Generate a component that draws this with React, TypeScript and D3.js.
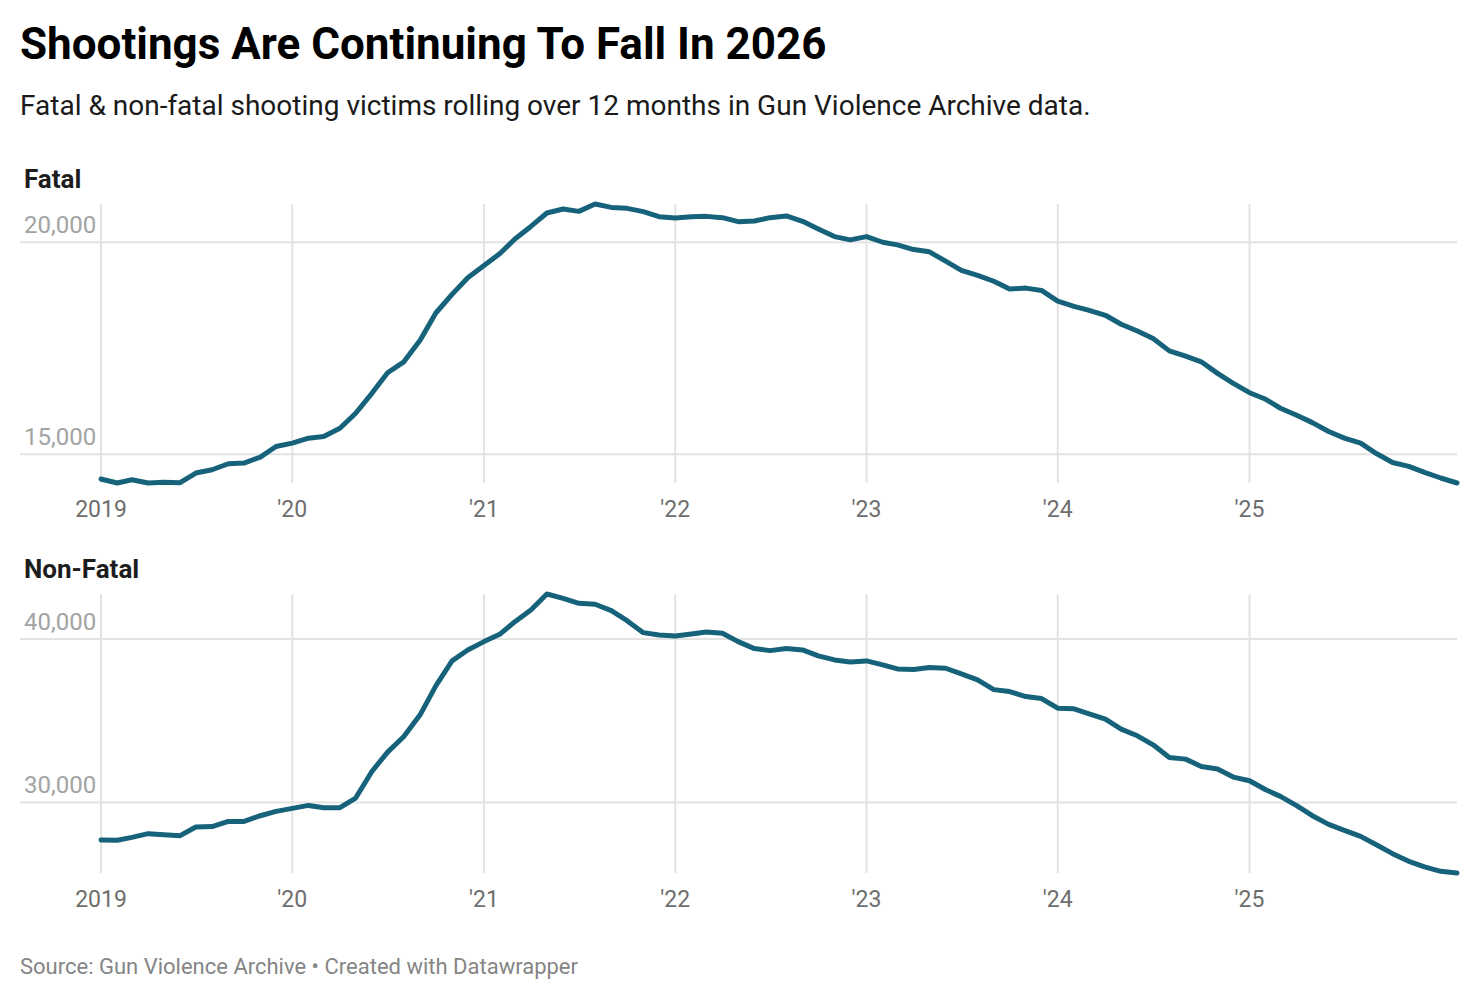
import React, { useEffect, useRef } from "react";
import * as d3 from "d3";

// monthly points, Jan 2019 .. Feb 2026
const startMonth = new Date(2019, 0, 1);
const endMonth = new Date(2026, 1, 1);
const months = d3.timeMonth.range(startMonth, d3.timeMonth.offset(endMonth, 1));

const fatal = [
  14413, 14319, 14397, 14319, 14334, 14326, 14554, 14632, 14773, 14790, 14930, 15180,
  15260, 15377, 15415, 15612, 15965, 16435, 16920, 17179, 17689, 18331, 18770, 19163,
  19452, 19741, 20078, 20380, 20691, 20785, 20729, 20903, 20823, 20800, 20722, 20604,
  20573, 20604, 20611, 20581, 20487, 20502, 20581, 20620, 20494, 20315, 20134, 20056,
  20134, 20000, 19938, 19828, 19774, 19553, 19335, 19217, 19080, 18895, 18918, 18864,
  18613, 18488, 18394, 18277, 18065, 17907, 17729, 17437, 17312, 17179, 16906, 16671,
  16450, 16294, 16083, 15918, 15744, 15533, 15377, 15260, 15008, 14804, 14710, 14569,
  14437, 14319,
];

const nonFatal = [
  27703, 27690, 27862, 28088, 28027, 27966, 28497, 28520, 28839, 28839, 29187, 29450,
  29634, 29817, 29676, 29676, 30269, 31894, 33079, 34031, 35357, 37129, 38656, 39328,
  39837, 40305, 41057, 41790, 42749, 42484, 42180, 42120, 41729, 41118, 40385, 40244,
  40183, 40305, 40428, 40346, 39837, 39409, 39286, 39409, 39328, 38962, 38717, 38595,
  38656, 38412, 38167, 38127, 38250, 38208, 37862, 37495, 36900, 36781, 36475, 36353,
  35764, 35724, 35418, 35092, 34484, 34075, 33525, 32750, 32648, 32200, 32040, 31551,
  31326, 30776, 30369, 29801, 29187, 28656, 28290, 27923, 27398, 26866, 26396, 26054,
  25785, 25683,
];

const fatalTicks = [15000, 20000];
const nonFatalTicks = [30000, 40000];
const yearTicks = [2019, 2020, 2021, 2022, 2023, 2024, 2025];

const title = "Shootings Are Continuing To Fall In 2026";
const subtitle =
  "Fatal & non-fatal shooting victims rolling over 12 months in Gun Violence Archive data.";
const source = "Source: Gun Violence Archive • Created with Datawrapper";

const FONT = "Roboto, 'Noto Sans', sans-serif";
const LINE = "#17627b";

const App: React.FC = () => {
  const svgRef = useRef<SVGSVGElement | null>(null);

  useEffect(() => {
    document.body.style.margin = "0";
    const width = 1480;
    const height = 1000;
    const svg = d3.select(svgRef.current).attr("width", width).attr("height", height);
    svg.selectAll("*").remove();
    svg.style("font-family", FONT);

    svg
      .append("text")
      .attr("x", 20)
      .attr("y", 59)
      .style("font-size", "44px")
      .style("font-weight", "700")
      .attr("fill", "#000")
      .text(title);

    svg
      .append("text")
      .attr("x", 20)
      .attr("y", 115)
      .style("font-size", "28px")
      .attr("fill", "#1a1a1a")
      .text(subtitle);

    const x = d3.scaleTime().domain([startMonth, endMonth]).range([101, 1457]);

    const panels = [
      { label: "Fatal", values: fatal, ticks: fatalTicks, top: 204 },
      { label: "Non-Fatal", values: nonFatal, ticks: nonFatalTicks, top: 594 },
    ];

    panels.forEach((p) => {
      const g = svg.append("g");
      const ext = d3.extent(p.values) as [number, number];
      const y = d3.scaleLinear().domain(ext).range([p.top + 279, p.top]);

      g.append("text")
        .attr("x", 24)
        .attr("y", p.top - 16)
        .style("font-size", "26px")
        .style("font-weight", "700")
        .attr("fill", "#1d1d1d")
        .text(p.label);

      // vertical year gridlines
      g.selectAll("line.vx")
        .data(yearTicks)
        .join("line")
        .attr("class", "vx")
        .attr("x1", (d) => x(new Date(d, 0, 1)))
        .attr("x2", (d) => x(new Date(d, 0, 1)))
        .attr("y1", p.top)
        .attr("y2", p.top + 279)
        .attr("stroke", "#e3e3e3")
        .attr("stroke-width", 2);

      // horizontal value gridlines
      g.selectAll("line.hy")
        .data(p.ticks)
        .join("line")
        .attr("class", "hy")
        .attr("x1", 20)
        .attr("x2", 1457)
        .attr("y1", (d) => y(d))
        .attr("y2", (d) => y(d))
        .attr("stroke", "#e3e3e3")
        .attr("stroke-width", 2);

      g.selectAll("text.yl")
        .data(p.ticks)
        .join("text")
        .attr("class", "yl")
        .attr("x", 24)
        .attr("y", (d) => y(d) - 9)
        .style("font-size", "24px")
        .attr("fill", "#a3a3a3")
        .text((d) => d3.format(",")(d));

      g.selectAll("text.xl")
        .data(yearTicks)
        .join("text")
        .attr("class", "xl")
        .attr("x", (d) => x(new Date(d, 0, 1)))
        .attr("y", p.top + 313)
        .attr("text-anchor", "middle")
        .style("font-size", "23px")
        .attr("fill", "#6e6e6e")
        .text((d) => (d === 2019 ? "2019" : "'" + String(d).slice(2)));

      const line = d3
        .line<number>()
        .x((_, i) => x(months[i]))
        .y((d) => y(d));

      g.append("path")
        .datum(p.values)
        .attr("d", line)
        .attr("fill", "none")
        .attr("stroke", LINE)
        .attr("stroke-width", 5)
        .attr("stroke-linejoin", "round")
        .attr("stroke-linecap", "round");
    });

    svg
      .append("text")
      .attr("x", 20)
      .attr("y", 974)
      .style("font-size", "22px")
      .attr("fill", "#858585")
      .text(source);
  }, []);

  return <svg ref={svgRef} style={{ display: "block" }} />;
};

export default App;
